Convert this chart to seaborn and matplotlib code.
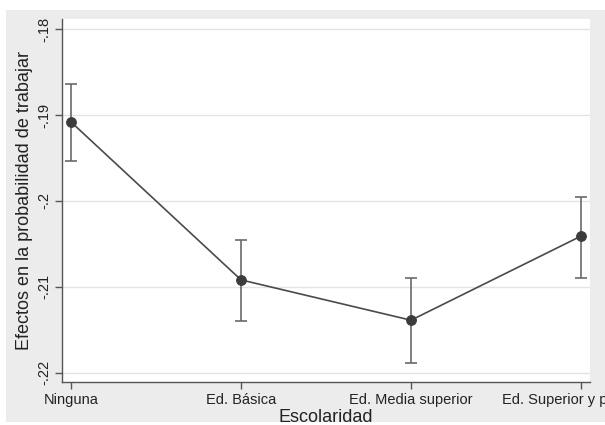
import matplotlib
matplotlib.use("Agg")
import matplotlib.pyplot as plt
import seaborn as sns
import pandas as pd
import numpy as np
from matplotlib.patches import Rectangle

categories = ["Ninguna", "Ed. Básica", "Ed. Media superior", "Ed. Superior y posgrado"]
estimate = [-0.1908, -0.2092, -0.2139, -0.2041]
ci_low = [-0.1954, -0.2140, -0.2189, -0.2090]
ci_high = [-0.1864, -0.2045, -0.2090, -0.1995]
yticks = [-0.22, -0.21, -0.20, -0.19, -0.18]
yticklabels = ["-.22", "-.21", "-.2", "-.19", "-.18"]

sns.set_style("white")
plt.rcParams['font.family'] = ['Liberation Sans', 'DejaVu Sans']

fig = plt.figure(figsize=(6.05, 4.25), dpi=100, facecolor="white")
bg = Rectangle((6/605, 1-422/425), 1, (422-10)/425, transform=fig.transFigure,
               facecolor="#ececec", edgecolor="none", zorder=-10)
fig.add_artist(bg)
ax = fig.add_axes([62/605, 1-382/425, (590-62)/605, (382-19)/425])
ax.set_zorder(1)
ax.set_facecolor("white")

df = pd.DataFrame({"cat": categories, "est": estimate})
x = np.arange(len(categories))
ax.errorbar(x, estimate,
            yerr=[np.array(estimate) - np.array(ci_low), np.array(ci_high) - np.array(estimate)],
            fmt="none", ecolor="#6a6a6a", elinewidth=1.2, capsize=4, capthick=1.2, zorder=2)
sns.lineplot(data=df, x=x, y="est", ax=ax, color="#4a4a4a", linewidth=1.2,
             marker="o", markersize=7, markeredgecolor="#3c3c3c", markerfacecolor="#3c3c3c", zorder=3)

ax.set_xlim(-0.053, 3.053)
ax.set_ylim(-0.2211, -0.1788)
ax.set_yticks(yticks)
ax.set_yticklabels(yticklabels, rotation=90, va="center", fontsize=10.5)
ax.set_xticks(x)
ax.set_xticklabels(categories, fontsize=10.5)
ax.grid(axis="y", color="#e4e4e4", linewidth=1)
ax.set_axisbelow(True)
for s in ["top", "right"]:
    ax.spines[s].set_visible(False)
for s in ["left", "bottom"]:
    ax.spines[s].set_color("#555555")
    ax.spines[s].set_linewidth(1)
ax.tick_params(axis="both", direction="out", length=5, width=1, color="#555555", colors="#222222", pad=3, bottom=True, left=True)
ax.set_xlabel("Escolaridad", fontsize=13, labelpad=1, color="#222222")
ax.set_ylabel("Efectos en la probabilidad de trabajar", fontsize=13, labelpad=3, color="#222222")

fig.savefig("out.png", dpi=100, facecolor="white")
